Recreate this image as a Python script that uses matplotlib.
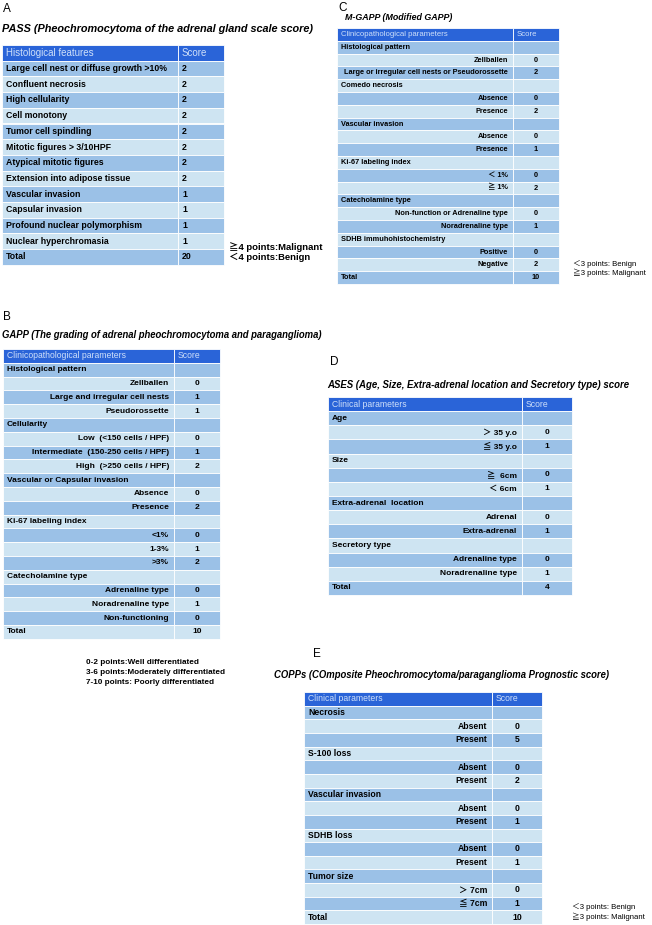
import matplotlib
matplotlib.use("Agg")
import matplotlib.pyplot as plt
from matplotlib.patches import Rectangle

plt.rcParams['font.family'] = ['Liberation Sans', 'Noto Sans CJK JP', 'DejaVu Sans']

# ---- data ----
# A: PASS
pass_features = ["Large cell nest or diffuse growth >10%", "Confluent necrosis",
                 "High cellularity", "Cell monotony", "Tumor cell spindling",
                 "Mitotic figures > 3/10HPF", "Atypical mitotic figures",
                 "Extension into adipose tissue", "Vascular invasion",
                 "Capsular invasion", "Profound nuclear polymorphism",
                 "Nuclear hyperchromasia", "Total"]
pass_scores = ["2", "2", "2", "2", "2", "2", "2", "2", "1", "1", "1", "1", "20"]

# B: GAPP
gapp_labels = ["Histological pattern", "Zellballen", "Large and irregular cell nests",
               "Pseudorossette", "Cellularity", "Low  (<150 cells / HPF)",
               "Intermediate  (150-250 cells / HPF)", "High  (>250 cells / HPF)",
               "Vascular or Capsular invasion", "Absence", "Presence",
               "Ki-67 labeling index", "<1%", "1-3%", ">3%",
               "Catecholamine type", "Adrenaline type", "Noradrenaline type",
               "Non-functioning", "Total"]
gapp_scores = ["", "0", "1", "1", "", "0", "1", "2", "", "0", "2", "",
               "0", "1", "2", "", "0", "1", "0", "10"]

# C: M-GAPP
mgapp_labels = ["Histological pattern", "Zellballen",
                "Large or irregular cell nests or Pseudorossette",
                "Comedo necrosis", "Absence", "Presence",
                "Vascular invasion", "Absence", "Presence",
                "Ki-67 labeling index", "＜ 1%", "≧ 1%",
                "Catecholamine type", "Non-function or Adrenaline type",
                "Noradrenaline type", "SDHB immuhohistochemistry",
                "Positive", "Negative", "Total"]
mgapp_scores = ["", "0", "2", "", "0", "2", "", "0", "1", "", "0", "2",
                "", "0", "1", "", "0", "2", "10"]

# D: ASES
ases_labels = ["Age", "＞ 35 y.o", "≦ 35 y.o", "Size", "≧  6cm", "＜ 6cm",
               "Extra-adrenal  location", "Adrenal", "Extra-adrenal",
               "Secretory type", "Adrenaline type", "Noradrenaline type", "Total"]
ases_scores = ["", "0", "1", "", "0", "1", "", "0", "1", "", "0", "1", "4"]

# E: COPPs
copps_labels = ["Necrosis", "Absent", "Present", "S-100 loss", "Absent", "Present",
                "Vascular invasion", "Absent", "Present", "SDHB loss", "Absent",
                "Present", "Tumor size", "＞ 7cm", "≦ 7cm", "Total"]
copps_scores = ["", "0", "5", "", "0", "2", "", "0", "1", "", "0", "1",
                "", "0", "1", "10"]

HEAD = "#2a64d8"
HEAD_TXT = "#cfe0fa"
DARK = "#9bc1e7"
LIGHT = "#cee4f2"

fig = plt.figure(figsize=(6.52, 9.25), dpi=100)
ax = fig.add_axes([0, 0, 1, 1])
ax.set_xlim(0, 652)
ax.set_ylim(925, 0)
ax.axis('off')


def draw_table(x0, split, x1, y0, rh, head, labels, scores, fs, hfs,
               grouped=True, center_score=True):
    rows = [head] + labels
    for i, lab in enumerate(rows):
        y = y0 + i * rh
        if i == 0:
            fc = HEAD
        else:
            fc = DARK if i % 2 == 1 else LIGHT
        ax.add_patch(Rectangle((x0, y), split - x0, rh, facecolor=fc,
                               edgecolor='white', lw=0.6))
        ax.add_patch(Rectangle((split, y), x1 - split, rh, facecolor=fc,
                               edgecolor='white', lw=0.6))
        yc = y + rh / 2
        if i == 0:
            ax.text(x0 + 4, yc, lab, fontsize=hfs, color=HEAD_TXT,
                    va='center', ha='left')
            ax.text(split + 4, yc, "Score", fontsize=hfs, color=HEAD_TXT,
                    va='center', ha='left')
            continue
        sc = scores[i - 1]
        is_group = (not grouped) or sc == "" or lab == "Total"
        if is_group:
            ax.text(x0 + 4, yc, lab, fontsize=fs, fontweight='bold',
                    va='center', ha='left')
        else:
            ax.text(split - 5, yc, lab, fontsize=fs, fontweight='bold',
                    va='center', ha='right')
        if center_score:
            ax.text((split + x1) / 2, yc, sc, fontsize=fs,
                    fontweight='bold', va='center', ha='center')
        else:
            ax.text(split + 4, yc, sc, fontsize=fs, fontweight='bold',
                    va='center', ha='left')


# panel letters
for lab, x, y in [("A", 3, 9), ("B", 3, 317), ("C", 338, 8),
                  ("D", 330, 362), ("E", 313, 654)]:
    ax.text(x, y, lab, fontsize=8.5, va='center', ha='left')

# titles
title_kw = dict(fontweight='bold', style='italic', va='center', ha='left')
ax.text(2, 29, "PASS (Pheochromocytoma of the adrenal gland scale score)",
        fontsize=7.8, **title_kw)
ax.text(2, 335, "GAPP (The grading of adrenal pheochromocytoma and paraganglioma)",
        fontsize=6.85, **title_kw)
ax.text(345, 18, "M-GAPP (Modified GAPP)", fontsize=6.4, **title_kw)
ax.text(327, 385, "ASES (Age, Size, Extra-adrenal location and Secretory type) score",
        fontsize=6.9, **title_kw)
ax.text(274, 675, "COPPs (COmposite Pheochromocytoma/paraganglioma Prognostic score)",
        fontsize=6.85, **title_kw)

draw_table(2, 178, 224, 45, 15.7, "Histological features", pass_features,
           pass_scores, 6.35, 7.0, grouped=False, center_score=False)
draw_table(3, 174, 220, 349, 13.8, "Clinicopathological parameters",
           gapp_labels, gapp_scores, 6.0, 6.2)
draw_table(337, 513, 559, 28, 12.8, "Clinicopathological parameters",
           mgapp_labels, mgapp_scores, 5.35, 5.6)
draw_table(328, 522, 572, 397, 14.14, "Clinical parameters",
           ases_labels, ases_scores, 6.0, 6.2)
draw_table(304, 492, 542, 692, 13.65, "Clinical parameters",
           copps_labels, copps_scores, 6.2, 6.2)

# footnotes
note_kw = dict(fontweight='bold', va='center', ha='left')
ax.text(229, 247, "≧4 points:Malignant", fontsize=6.8, **note_kw)
ax.text(229, 257, "＜4 points:Benign", fontsize=6.8, **note_kw)
ax.text(86, 663, "0-2 points:Well differentiated", fontsize=5.9, **note_kw)
ax.text(86, 672, "3-6 points:Moderately differentiated", fontsize=5.9, **note_kw)
ax.text(86, 682, "7-10 points: Poorly differentiated", fontsize=5.9, **note_kw)
ax.text(573, 264, "＜3 points: Benign", fontsize=5.6, va='center', ha='left')
ax.text(573, 273, "≧3 points: Malignant", fontsize=5.6, va='center', ha='left')
ax.text(572, 907, "＜3 points: Benign", fontsize=5.6, va='center', ha='left')
ax.text(572, 917, "≧3 points: Malignant", fontsize=5.6, va='center', ha='left')

fig.savefig("out.png", dpi=100, facecolor='white')
